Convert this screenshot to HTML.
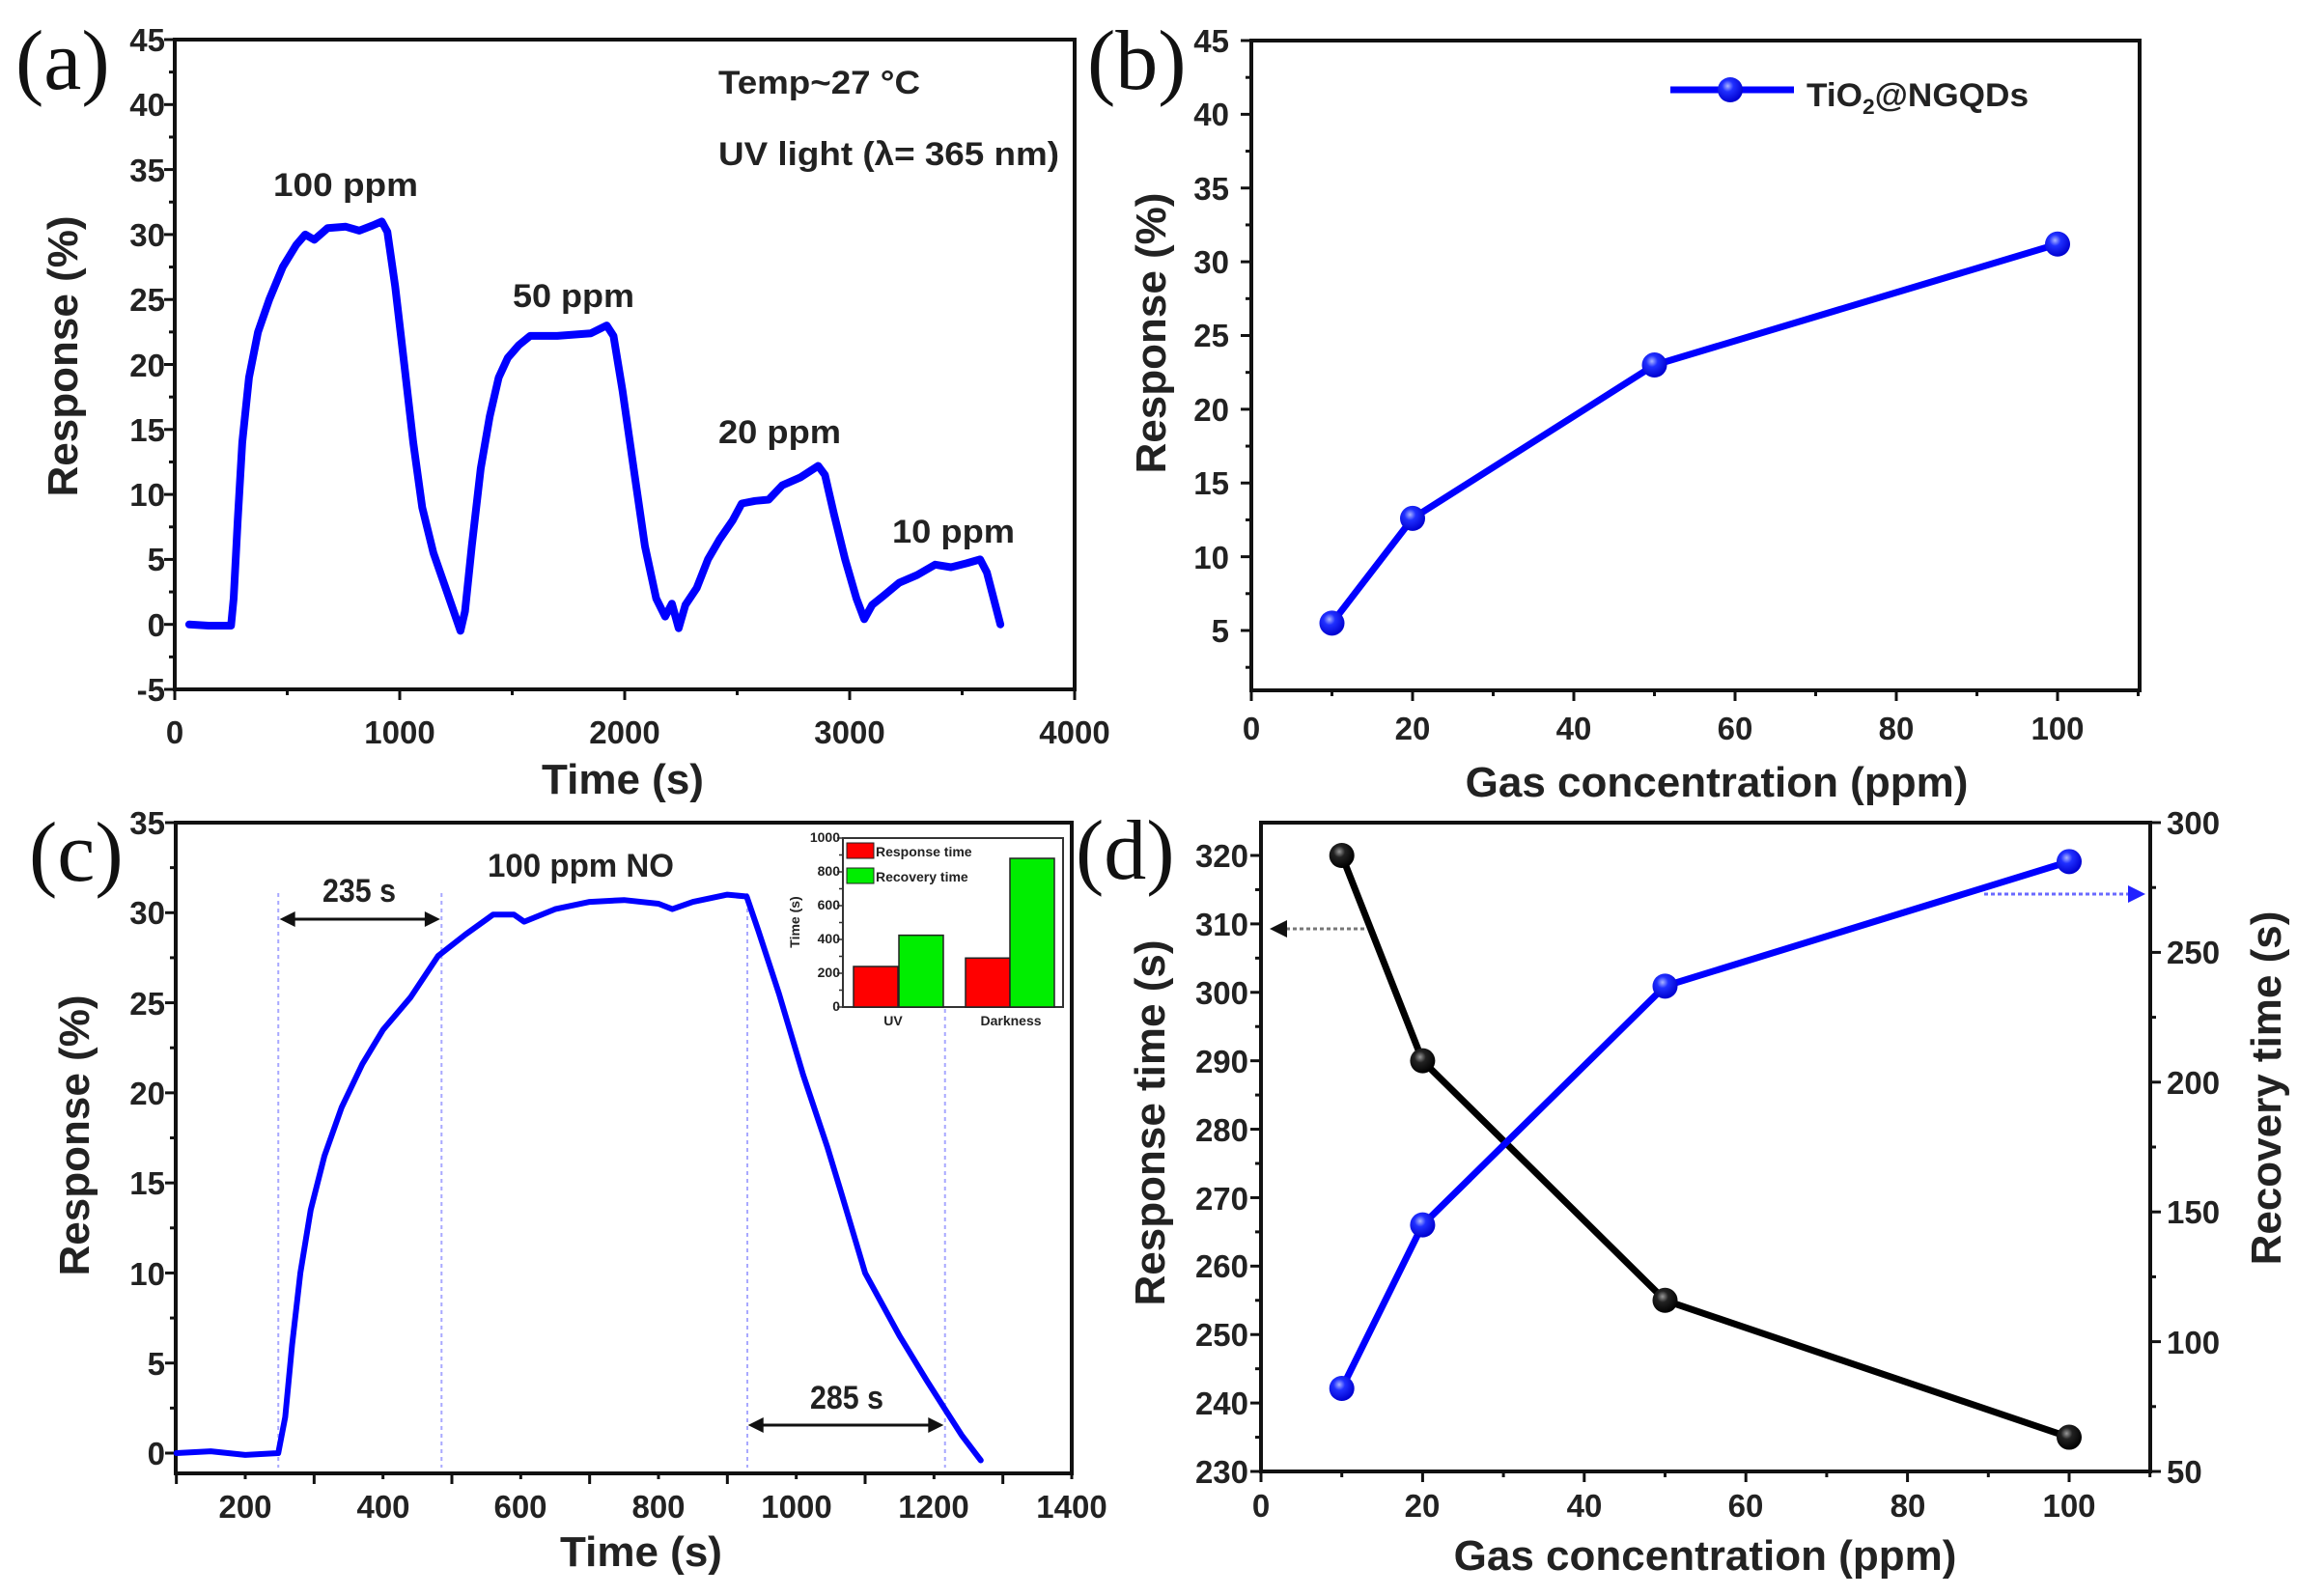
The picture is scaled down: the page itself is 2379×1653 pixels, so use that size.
<!DOCTYPE html>
<html><head><meta charset="utf-8">
<style>
html,body{margin:0;padding:0;background:#fff;}
svg{display:block;}
text{font-family:"Liberation Sans",Arial,sans-serif;font-weight:bold;fill:#222;}
.t{font-size:33px;}
.ti{font-size:44px;}
.an{font-size:34px;}
.pl{font-family:"Liberation Serif",serif;font-weight:normal;font-size:88px;fill:#111;}
.in{font-size:14px;font-weight:bold;}
</style></head>
<body>
<svg id="s" width="2379" height="1653" viewBox="0 0 2379 1653" xmlns="http://www.w3.org/2000/svg">
<defs>
<radialGradient id="gb" cx="0.4" cy="0.35" r="0.65"><stop offset="0" stop-color="#aab4ff"/><stop offset="0.35" stop-color="#2030ff"/><stop offset="1" stop-color="#0000d0"/></radialGradient>
<radialGradient id="gk" cx="0.4" cy="0.35" r="0.65"><stop offset="0" stop-color="#999"/><stop offset="0.35" stop-color="#222"/><stop offset="1" stop-color="#000"/></radialGradient>
</defs>
<g id="g"></g>

<text class="pl" x="16" y="92">(a)</text>
<text class="pl" x="1126" y="92">(b)</text>
<text class="pl" x="30" y="912">(c)</text>
<text class="pl" x="1114" y="910">(d)</text>

<g class="t" text-anchor="end">
<text x="171" y="53">45</text><text x="171" y="120">40</text><text x="171" y="188">35</text><text x="171" y="255">30</text><text x="171" y="322">25</text><text x="171" y="390">20</text><text x="171" y="457">15</text><text x="171" y="524">10</text><text x="171" y="591">5</text><text x="171" y="659">0</text><text x="171" y="726">-5</text>
</g>
<g class="t" text-anchor="middle">
<text x="181" y="770">0</text><text x="414" y="770">1000</text><text x="647" y="770">2000</text><text x="880" y="770">3000</text><text x="1113" y="770">4000</text>
</g>
<text class="ti" x="645" y="822" text-anchor="middle">Time (s)</text>
<text class="ti" x="80" y="369" text-anchor="middle" transform="rotate(-90 80 369)">Response (%)</text>
<text class="an" x="283" y="203" textLength="150" lengthAdjust="spacingAndGlyphs">100 ppm</text>
<text class="an" x="531" y="318" textLength="126" lengthAdjust="spacingAndGlyphs">50 ppm</text>
<text class="an" x="744" y="459" textLength="127" lengthAdjust="spacingAndGlyphs">20 ppm</text>
<text class="an" x="924" y="562" textLength="127" lengthAdjust="spacingAndGlyphs">10 ppm</text>
<text class="an" x="744" y="97" textLength="209" lengthAdjust="spacingAndGlyphs">Temp~27 °C</text>
<text class="an" x="744" y="171" textLength="353" lengthAdjust="spacingAndGlyphs">UV light (λ= 365 nm)</text>

<g class="t" text-anchor="end">
<text x="1273" y="54">45</text><text x="1273" y="130">40</text><text x="1273" y="207">35</text><text x="1273" y="283">30</text><text x="1273" y="359">25</text><text x="1273" y="436">20</text><text x="1273" y="512">15</text><text x="1273" y="589">10</text><text x="1273" y="665">5</text>
</g>
<g class="t" text-anchor="middle">
<text x="1296" y="766">0</text><text x="1463" y="766">20</text><text x="1630" y="766">40</text><text x="1797" y="766">60</text><text x="1964" y="766">80</text><text x="2131" y="766">100</text>
</g>
<text class="ti" x="1778" y="825" text-anchor="middle">Gas concentration (ppm)</text>
<text class="ti" x="1207" y="345" text-anchor="middle" transform="rotate(-90 1207 345)">Response (%)</text>
<text class="an" x="1871" y="110" textLength="230" lengthAdjust="spacingAndGlyphs">TiO<tspan font-size="22" dy="8">2</tspan><tspan dy="-8">@NGQDs</tspan></text>

<g class="t" text-anchor="end">
<text x="171" y="864">35</text><text x="171" y="957">30</text><text x="171" y="1051">25</text><text x="171" y="1144">20</text><text x="171" y="1237">15</text><text x="171" y="1331">10</text><text x="171" y="1424">5</text><text x="171" y="1517">0</text>
</g>
<g class="t" text-anchor="middle">
<text x="254" y="1572">200</text><text x="397" y="1572">400</text><text x="539" y="1572">600</text><text x="682" y="1572">800</text><text x="825" y="1572">1000</text><text x="967" y="1572">1200</text><text x="1110" y="1572">1400</text>
</g>
<text class="ti" x="664" y="1622" text-anchor="middle">Time (s)</text>
<text class="ti" x="92" y="1176" text-anchor="middle" transform="rotate(-90 92 1176)">Response (%)</text>
<text class="an" x="505" y="908" textLength="193" lengthAdjust="spacingAndGlyphs">100 ppm NO</text>
<text class="an" x="334" y="934" textLength="76" lengthAdjust="spacingAndGlyphs">235 s</text>
<text class="an" x="839" y="1459" textLength="76" lengthAdjust="spacingAndGlyphs">285 s</text>
<g class="in" text-anchor="end" font-size="12">
<text x="870" y="872">1000</text><text x="870" y="907">800</text><text x="870" y="942">600</text><text x="870" y="977">400</text><text x="870" y="1012">200</text><text x="870" y="1047">0</text>
</g>
<text class="in" x="925" y="1062" text-anchor="middle">UV</text>
<text class="in" x="1047" y="1062" text-anchor="middle">Darkness</text>
<text class="in" x="828" y="955" text-anchor="middle" transform="rotate(-90 828 955)">Time (s)</text>
<text class="in" x="907" y="887" font-size="14">Response time</text>
<text class="in" x="907" y="913" font-size="14">Recovery time</text>

<g class="t" text-anchor="end">
<text x="1293" y="898">320</text><text x="1293" y="969">310</text><text x="1293" y="1040">300</text><text x="1293" y="1111">290</text><text x="1293" y="1182">280</text><text x="1293" y="1253">270</text><text x="1293" y="1323">260</text><text x="1293" y="1394">250</text><text x="1293" y="1465">240</text><text x="1293" y="1536">230</text>
</g>
<g class="t" text-anchor="start">
<text x="2244" y="864">300</text><text x="2244" y="998">250</text><text x="2244" y="1133">200</text><text x="2244" y="1267">150</text><text x="2244" y="1402">100</text><text x="2244" y="1536">50</text>
</g>
<g class="t" text-anchor="middle">
<text x="1306" y="1571">0</text><text x="1473" y="1571">20</text><text x="1641" y="1571">40</text><text x="1808" y="1571">60</text><text x="1976" y="1571">80</text><text x="2143" y="1571">100</text>
</g>
<text class="ti" x="1766" y="1626" text-anchor="middle">Gas concentration (ppm)</text>
<text class="ti" x="1206" y="1163" text-anchor="middle" transform="rotate(-90 1206 1163)">Response time (s)</text>
<text class="ti" x="2362" y="1127" text-anchor="middle" transform="rotate(-90 2362 1127)">Recovery time (s)</text>
</svg>
<script>
(function(){
var NS="http://www.w3.org/2000/svg",G=document.getElementById("g");
function el(n,a){var e=document.createElementNS(NS,n);for(var k in a)e.setAttribute(k,a[k]);G.appendChild(e);return e;}
function lin(a0,a1,p0,p1){return function(v){return p0+(v-a0)*(p1-p0)/(a1-a0);};}
function line(x1,y1,x2,y2,w,c){el("line",{x1:x1,y1:y1,x2:x2,y2:y2,stroke:c||"#111","stroke-width":w||3});}
function poly(pts,X,Y,c,w){var d=pts.map(function(p,i){return (i?"L":"M")+X(p[0]).toFixed(1)+" "+Y(p[1]).toFixed(1);}).join("");
 el("path",{d:d,fill:"none",stroke:c,"stroke-width":w,"stroke-linejoin":"round","stroke-linecap":"round"});}
function frame(x0,y0,x1,y1){el("rect",{x:x0,y:y0,width:x1-x0,height:y1-y0,fill:"none",stroke:"#111","stroke-width":4});}
function yt(x,Y,a,b,st,mi,dir){for(var v=a;v<=b+1e-9;v+=st/2){var maj=Math.abs(Math.round((v-a)/st)*st-(v-a))<1e-6;var y=Y(v);line(x,y,x+dir*(maj?11:6),y,3);}}
function xt(y,X,a,b,st){for(var v=a;v<=b+1e-9;v+=st/2){var maj=Math.abs(Math.round((v-a)/st)*st-(v-a))<1e-6;var x=X(v);line(x,y,x,y+(maj?11:6),3);}}
function ball(cx,cy,g){el("circle",{cx:cx,cy:cy,r:13,fill:"url(#"+g+")"});}

var X=lin(0,4000,181,1113),Y=lin(-5,45,714,41);
frame(181,41,1113,714);yt(181,Y,-5,45,5,0,-1);xt(714,X,0,4000,1000);
var pa=[[64,0],[150,-0.1],[250,-0.1],[262,2],[280,8],[300,14],[330,19],[370,22.5],[420,25],[480,27.5],[540,29.2],[580,30],[620,29.6],[680,30.5],[760,30.6],[820,30.3],[880,30.7],[920,31],[945,30.2],[980,26],[1020,20],[1060,14],[1100,9],[1150,5.5],[1200,3],[1240,1],[1270,-0.5],[1290,1],[1320,6],[1360,12],[1400,16],[1440,19],[1480,20.5],[1530,21.5],[1580,22.2],[1700,22.2],[1850,22.4],[1920,23],[1950,22.2],[1990,18],[2040,12],[2090,6],[2140,2],[2180,0.6],[2210,1.6],[2240,-0.3],[2270,1.5],[2320,2.8],[2370,5],[2420,6.5],[2480,8],[2520,9.3],[2580,9.5],[2640,9.6],[2700,10.7],[2780,11.3],[2860,12.2],[2890,11.5],[2930,8.5],[2980,5],[3030,2],[3065,0.4],[3100,1.5],[3150,2.2],[3220,3.2],[3300,3.8],[3380,4.6],[3450,4.4],[3520,4.7],[3580,5],[3610,4],[3640,2],[3670,0]];
poly(pa,X,Y,"#0000ff",8);

X=lin(0,100,1296,2131);Y=lin(5,45,653,42);
frame(1296,42,2216,715);yt(1296,Y,5,45,5,0,-1);line(1296,Y(2.5),1290,Y(2.5),3);xt(715,X,0,110,20);
var pb=[[10,5.5],[20,12.6],[50,23],[100,31.2]];
poly(pb,X,Y,"#0000ff",7);pb.forEach(function(p){ball(X(p[0]),Y(p[1]),"gb");});
line(1730,93,1858,93,7,"#0000ff");ball(1792,93,"gb");

X=lin(200,1400,254,1110);Y=lin(0,35,1505,852);
frame(182,852,1110,1526);yt(182,Y,0,35,5,0,-1);xt(1526,X,100,1400,200);
[248,485,929,1216].forEach(function(t){line(X(t),925,X(t),1520,2,"#a8a8ff");G.lastChild.setAttribute("stroke-dasharray","4 4");});
var pc=[[100,0],[150,0.1],[200,-0.1],[248,0],[258,2],[268,6],[280,10],[295,13.5],[315,16.5],[340,19.2],[370,21.6],[400,23.5],[440,25.3],[480,27.6],[520,28.8],[560,29.9],[590,29.9],[605,29.5],[650,30.2],[700,30.6],[750,30.7],[800,30.5],[820,30.2],[850,30.6],[900,31],[928,30.9],[945,29],[975,25.5],[1010,21],[1045,17],[1065,14.5],[1100,10],[1150,6.5],[1190,4],[1215,2.5],[1240,1],[1268,-0.4]];
poly(pc,X,Y,"#0000ff",6);
function arrow(x1,x2,y){line(x1+12,y,x2-12,y,3,"#111");el("path",{d:"M"+x1+" "+y+"l16 -8v16z",fill:"#111"});el("path",{d:"M"+x2+" "+y+"l-16 -8v16z",fill:"#111"});}
arrow(X(250),X(483),952);arrow(X(930),X(1214),1476);
el("rect",{x:873,y:868,width:228,height:175,fill:"#fff",stroke:"#333","stroke-width":2});
var IY=lin(0,1000,1043,868);
for(var v=0;v<=1000;v+=100){line(873,IY(v),v%200?869:867,IY(v),1.5,"#333");}
el("rect",{x:884,y:IY(240),width:46,height:1043-IY(240),fill:"#ff0000",stroke:"#222","stroke-width":1.5});
el("rect",{x:931,y:IY(425),width:46,height:1043-IY(425),fill:"#00ee00",stroke:"#222","stroke-width":1.5});
el("rect",{x:1000,y:IY(290),width:46,height:1043-IY(290),fill:"#ff0000",stroke:"#222","stroke-width":1.5});
el("rect",{x:1046,y:IY(880),width:46,height:1043-IY(880),fill:"#00ee00",stroke:"#222","stroke-width":1.5});
el("rect",{x:877,y:873,width:28,height:16,fill:"#ff0000",stroke:"#222","stroke-width":1});
el("rect",{x:877,y:899,width:28,height:16,fill:"#00ee00",stroke:"#222","stroke-width":1});

X=lin(0,100,1306,2143);Y=lin(230,320,1524,886);var Yr=lin(50,300,1524,852);
frame(1306,852,2227,1524);yt(1306,Y,230,320,10,0,-1);xt(1524,X,0,110,20);
for(var v=50;v<=300;v+=25){line(2227,Yr(v),2227+(v%50?6:11),Yr(v),3);}
var pk=[[10,320],[20,290],[50,255],[100,235]];
poly(pk,X,Y,"#000",7);
var pr=[[10,82],[20,145],[50,237],[100,285]];
poly(pr,X,Yr,"#0000ff",7);
pk.forEach(function(p){ball(X(p[0]),Y(p[1]),"gk");});
pr.forEach(function(p){ball(X(p[0]),Yr(p[1]),"gb");});
line(1413,962,1330,962,3,"#777");G.lastChild.setAttribute("stroke-dasharray","4 3");
el("path",{d:"M1315 962l18 -9v18z",fill:"#111"});
line(2055,926,2205,926,3,"#6a6aff");G.lastChild.setAttribute("stroke-dasharray","4 3");
el("path",{d:"M2222 926l-18 -9v18z",fill:"#2020ff"});
})();
</script>
</body></html>
